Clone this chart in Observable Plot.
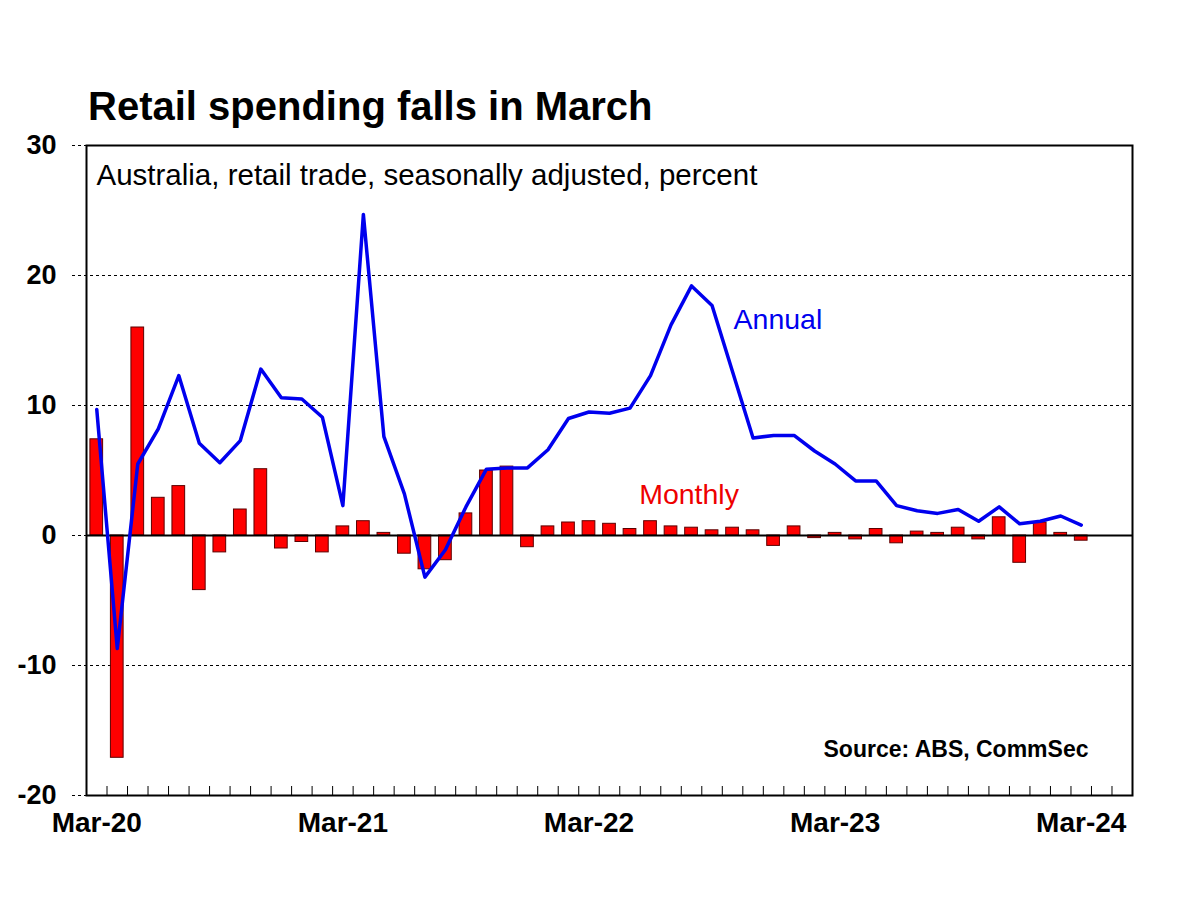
<!DOCTYPE html>
<html><head><meta charset="utf-8">
<script src="https://cdn.jsdelivr.net/npm/d3@7"></script>
<script src="https://cdn.jsdelivr.net/npm/@observablehq/plot@0.6"></script>
<style>
html,body{margin:0;padding:0;background:#fff;}
#wrap{position:relative;width:1200px;height:900px;font-family:"Liberation Sans",Arial,sans-serif;}
#title{position:absolute;left:88px;top:86px;font-size:40px;line-height:40px;font-weight:bold;margin:0;color:#000;white-space:nowrap;}
#chart{position:absolute;left:0;top:0;}
</style>
</head><body>
<div id="wrap">
  <div id="chart"></div>
  <h1 id="title">Retail spending falls in March</h1>
</div>
<script>
const months = ["Mar-20","Apr-20","May-20","Jun-20","Jul-20","Aug-20","Sep-20","Oct-20","Nov-20","Dec-20",
  "Jan-21","Feb-21","Mar-21","Apr-21","May-21","Jun-21","Jul-21","Aug-21","Sep-21","Oct-21","Nov-21","Dec-21",
  "Jan-22","Feb-22","Mar-22","Apr-22","May-22","Jun-22","Jul-22","Aug-22","Sep-22","Oct-22","Nov-22","Dec-22",
  "Jan-23","Feb-23","Mar-23","Apr-23","May-23","Jun-23","Jul-23","Aug-23","Sep-23","Oct-23","Nov-23","Dec-23",
  "Jan-24","Feb-24","Mar-24","Apr-24","May-24"];

const monthly = [7.4,-17.1,16.0,2.9,3.8,-4.2,-1.3,2.0,5.1,-1.0,
  -0.5,-1.3,0.7,1.1,0.2,-1.4,-2.6,-1.9,1.7,5.0,5.3,-0.9,
  0.7,1.0,1.1,0.9,0.5,1.1,0.7,0.6,0.4,0.6,0.4,-0.8,
  0.7,-0.2,0.2,-0.3,0.5,-0.6,0.3,0.2,0.6,-0.3,1.4,-2.1,
  1.0,0.2,-0.4];

const annual = [9.7,-8.7,5.5,8.2,12.3,7.1,5.6,7.3,12.8,10.6,
  10.5,9.1,2.3,24.7,7.6,3.2,-3.2,-1.1,2.2,5.1,5.2,5.2,
  6.6,9.0,9.5,9.4,9.8,12.3,16.2,19.2,17.7,12.6,7.5,7.7,
  7.7,6.5,5.5,4.2,4.2,2.3,1.9,1.7,2.0,1.1,2.2,0.9,
  1.1,1.5,0.8];

const yTicks = [-20,-10,0,10,20,30];
const xTickLabels = ["Mar-20","Mar-21","Mar-22","Mar-23","Mar-24"];
const subtitle = "Australia, retail trade, seasonally adjusted, percent";
const source = "Source: ABS, CommSec";

const monthlyData = monthly.map((v,i)=>({month: months[i], value: v}));
const annualData = annual.map((v,i)=>({month: months[i], value: v}));

const W = 1200, H = 900, ML = 86, MR = 68, MT = 145, MB = 105;
const step = (W - ML - MR) / months.length;
const font = "Liberation Sans, Arial, sans-serif";

const chart = Plot.plot({
  width: W, height: H,
  marginTop: MT, marginBottom: MB, marginLeft: ML, marginRight: MR,
  style: {fontFamily: font, background: "white", overflow: "visible", color: "black"},
  x: {type: "band", domain: months, paddingInner: 0.38, paddingOuter: 0.19, round: false, label: null},
  y: {domain: [-20, 30], label: null},
  marks: [
    Plot.ruleY(yTicks, {stroke: "black", strokeWidth: 1, strokeDasharray: "3,3", insetLeft: -14}),
    Plot.barY(monthlyData, {x: "month", y: "value", fill: "#ff0000", stroke: "#5c0000", strokeWidth: 1}),
    Plot.ruleY([0], {stroke: "black", strokeWidth: 2}),
    Plot.ruleX(months.slice(1), {x: d => d, y1: -20, y2: -20 + 9/13, dx: -step/2, stroke: "black", strokeWidth: 1}),
    Plot.line(annualData, {x: "month", y: "value", stroke: "#0000ee", strokeWidth: 3.5, strokeLinejoin: "round"}),
    Plot.frame({stroke: "black", strokeWidth: 2}),
    Plot.axisY(yTicks, {tickSize: 0, tickPadding: 30, fontSize: 27, fontWeight: "bold", tickFormat: d => String(d), label: null}),
    Plot.axisX(xTickLabels, {tickSize: 0, tickPadding: 17, fontSize: 28, fontWeight: "bold", label: null}),
    Plot.text([subtitle], {text: d => d, frameAnchor: "top-left", textAnchor: "start", lineAnchor: "bottom", dx: 10, dy: 39, fontSize: 29.5, fill: "black"}),
    Plot.text([source], {text: d => d, frameAnchor: "bottom-right", textAnchor: "end", lineAnchor: "bottom", dx: -44, dy: -39, fontSize: 23, fontWeight: "bold", fill: "black"}),
    Plot.text(["Annual"], {text: d => d, x: () => "Oct-22", y: () => 15.85, textAnchor: "start", lineAnchor: "bottom", dx: 1, fontSize: 28.5, fill: "#0000ee"}),
    Plot.text(["Monthly"], {text: d => d, x: () => "Aug-22", y: () => 2.46, textAnchor: "middle", lineAnchor: "bottom", dx: -2.5, fontSize: 28.5, fill: "#ee0000"})
  ]
});
document.getElementById("chart").appendChild(chart);
</script>
</body></html>
